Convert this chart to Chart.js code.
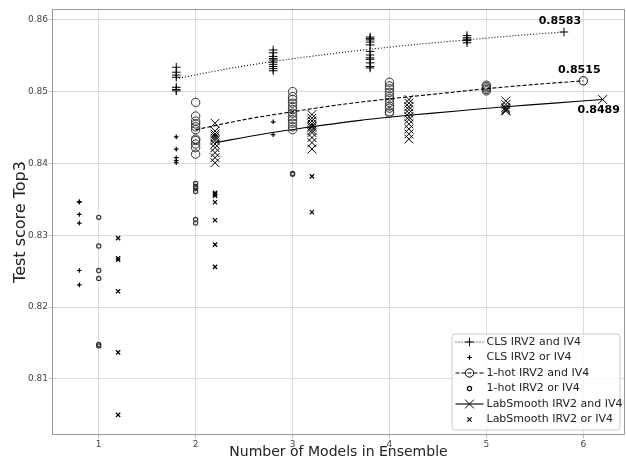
<!DOCTYPE html>
<html>
<head>
<meta charset="utf-8">
<script src="https://cdn.jsdelivr.net/npm/chart.js@4.4.1/dist/chart.umd.min.js"></script>
<style>
  html, body { margin: 0; padding: 0; background: #fff; }
  #wrap { width: 626px; height: 460px; }
</style>
</head>
<body>
<div id="wrap"><canvas id="grafico" width="626" height="460"></canvas></div>
<script>
// number of models for the "and" runs and the "or" runs
const andCounts = [2, 3, 4, 5];
const orCounts = [1, 2, 3];

const clsAndScores = [
    [0.8534, 0.8527, 0.8523, 0.8520, 0.8506, 0.8503, 0.8501],
    [0.8558, 0.8554, 0.8549, 0.8546, 0.8544, 0.8541, 0.8538, 0.8535, 0.8532, 0.8529],
    [0.8576, 0.8574, 0.8572, 0.8569, 0.8565, 0.8556, 0.8551, 0.8547, 0.8545, 0.8540, 0.8535, 0.8533],
    [0.8578, 0.8575, 0.8573, 0.8571, 0.8568]
];
const hotAndScores = [
    [0.8485, 0.8466, 0.8459, 0.8455, 0.8451, 0.8447, 0.8434, 0.8432, 0.8427, 0.8422, 0.8413],
    [0.8500, 0.8493, 0.8489, 0.8484, 0.8479, 0.8475, 0.8470, 0.8465, 0.8461, 0.8456, 0.8451, 0.8447],
    [0.8513, 0.8508, 0.8504, 0.8499, 0.8494, 0.8490, 0.8485, 0.8480, 0.8477, 0.8472, 0.8470],
    [0.8509, 0.8507, 0.8505, 0.8503, 0.8501]
];
const lsAndScores = [
    [0.8456, 0.8445, 0.8441, 0.8438, 0.8435, 0.8432, 0.8427, 0.8422, 0.8415, 0.8408, 0.8401],
    [0.8468, 0.8463, 0.8459, 0.8455, 0.8452, 0.8450, 0.8446, 0.8443, 0.8436, 0.8429, 0.8420],
    [0.8489, 0.8484, 0.8479, 0.8475, 0.8470, 0.8465, 0.8461, 0.8455, 0.8448, 0.8441, 0.8434],
    [0.8487, 0.8482, 0.8478, 0.8476, 0.8474, 0.8473]
];

const clsOrScores = [
    [0.8347, 0.8346, 0.8329, 0.8317, 0.8251, 0.8231],
    [0.8437, 0.8420, 0.8408, 0.8404, 0.8401],
    [0.8458, 0.8440]
];
const hotOrScores = [
    [0.8325, 0.8285, 0.8251, 0.8240, 0.8148, 0.8146],
    [0.8372, 0.8368, 0.8365, 0.8361, 0.8322, 0.8317],
    [0.8386, 0.8385]
];
const lsOrScores = [
    [0.8296, 0.8268, 0.8266, 0.8222, 0.8137, 0.8050],
    [0.8359, 0.8357, 0.8355, 0.8346, 0.8321, 0.8287, 0.8256],
    [0.8382, 0.8332]
];

// fitted curves, last point is the prediction for 6 models
const fitCounts = [2, 2.5, 3, 3.5, 4, 4.5, 5, 5.5, 6];
const clsFit = [0.8518, 0.8531, 0.8542, 0.8551, 0.8559, 0.8566, 0.8572, 0.8578, 0.8583];
const hotFit = [0.8447, 0.8461, 0.8472, 0.8482, 0.8490, 0.8497, 0.8504, 0.8510, 0.8515];
const lsFit = [0.8429, 0.8441, 0.8451, 0.8460, 0.8467, 0.8473, 0.8479, 0.8484, 0.8489];

const xTicks = [1, 2, 3, 4, 5, 6];
const yTicks = [0.81, 0.82, 0.83, 0.84, 0.85, 0.86];

const FONT = 'DejaVu Sans';

const grupos = [
    {nombre: 'CLS', marker: 'cross', dash: [1, 2], shift: -0.2, and: clsAndScores, or: clsOrScores, fit: clsFit, arriba: true},
    {nombre: '1-hot', marker: 'circle', dash: [4, 2], shift: 0, and: hotAndScores, or: hotOrScores, fit: hotFit, arriba: true},
    {nombre: 'LabSmooth', marker: 'crossRot', dash: [], shift: 0.2, and: lsAndScores, or: lsOrScores, fit: lsFit, arriba: false}
];

const radioGrande = {cross: 4.3, circle: 4.2, crossRot: 6.2};
const radioChico = {cross: 2.3, circle: 2.1, crossRot: 3};

function puntos(counts, scores, shift) {
    const out = [];
    counts.forEach((n, i) => scores[i].forEach(v => out.push({x: n + shift, y: v})));
    return out;
}

const datasets = [];
grupos.forEach(g => {
    const curva = fitCounts.map((n, i) => ({x: n + g.shift, y: g.fit[i]}));
    datasets.push({
        label: g.nombre + ' IRV2 and IV4',
        data: curva,
        showLine: true,
        tension: 0.3,
        borderColor: '#000',
        borderWidth: 1.1,
        borderDash: g.dash,
        pointStyle: g.marker,
        pointRadius: c => c.dataIndex === curva.length - 1 ? radioGrande[g.marker] : 0,
        pointBorderWidth: 1,
        pointBorderColor: '#000',
        pointBackgroundColor: 'rgba(0,0,0,0)'
    });
    datasets.push({
        label: g.nombre + ' IRV2 and IV4 runs',
        data: puntos(andCounts, g.and, g.shift),
        showLine: false,
        pointStyle: g.marker,
        pointRadius: radioGrande[g.marker],
        pointBorderWidth: 1,
        pointBorderColor: g.marker === 'circle' ? '#333' : '#000',
        pointBackgroundColor: 'rgba(0,0,0,0)'
    });
    datasets.push({
        label: g.nombre + ' IRV2 or IV4',
        data: puntos(orCounts, g.or, g.shift),
        showLine: false,
        pointStyle: g.marker,
        pointRadius: radioChico[g.marker],
        pointBorderWidth: 1.2,
        pointBorderColor: g.marker === 'circle' ? '#333' : '#000',
        pointBackgroundColor: 'rgba(0,0,0,0)'
    });
});

function dibujarMarcador(ctx, estilo, x, y, r) {
    ctx.beginPath();
    if (estilo === 'circle') {
        ctx.arc(x, y, r, 0, Math.PI * 2);
    } else if (estilo === 'cross') {
        ctx.moveTo(x - r, y); ctx.lineTo(x + r, y);
        ctx.moveTo(x, y - r); ctx.lineTo(x, y + r);
    } else {
        const d = r * Math.SQRT1_2;
        ctx.moveTo(x - d, y - d); ctx.lineTo(x + d, y + d);
        ctx.moveTo(x - d, y + d); ctx.lineTo(x + d, y - d);
    }
    ctx.stroke();
}

// frame around the plot
const marco = {
    id: 'marco',
    beforeDatasetsDraw(chart) {
        const {ctx, chartArea: a} = chart;
        ctx.save();
        ctx.strokeStyle = '#9a9a9a';
        ctx.lineWidth = 1;
        ctx.strokeRect(a.left + 0.5, a.top + 0.5, a.right - a.left - 1, a.bottom - a.top - 1);
        ctx.restore();
    }
};

// value labels next to the predicted points
const etiquetas = {
    id: 'etiquetas',
    afterDatasetsDraw(chart) {
        const {ctx, scales} = chart;
        ctx.save();
        ctx.font = 'bold 11px "' + FONT + '"';
        ctx.fillStyle = '#000';
        ctx.textAlign = 'center';
        ctx.textBaseline = 'middle';
        grupos.forEach(g => {
            const i = fitCounts.length - 1;
            const px = scales.x.getPixelForValue(fitCounts[i] + g.shift);
            const py = scales.y.getPixelForValue(g.fit[i]);
            ctx.fillText(g.fit[i].toFixed(4), px - 4, py + (g.arriba ? -11 : 11));
        });
        ctx.restore();
    }
};

// legend drawn inside the plot, lower right
const leyenda = {
    id: 'leyenda',
    afterDraw(chart) {
        const {ctx, chartArea: a} = chart;
        const x1 = a.right - 5.5, y1 = a.bottom - 5.5;
        const x0 = x1 - 168, y0 = y1 - 96;
        ctx.save();
        ctx.beginPath();
        ctx.roundRect(x0 + 0.5, y0 + 0.5, x1 - x0, y1 - y0, 3);
        ctx.fillStyle = 'rgba(255,255,255,0.8)';
        ctx.fill();
        ctx.strokeStyle = '#cccccc';
        ctx.lineWidth = 1;
        ctx.stroke();
        ctx.font = '11px "' + FONT + '"';
        ctx.textBaseline = 'middle';
        let fila = 0;
        grupos.forEach(g => {
            ['and', 'or'].forEach(tipo => {
                const y = y0 + 8.5 + fila * 15.5;
                ctx.strokeStyle = '#000';
                if (tipo === 'and') {
                    ctx.lineWidth = 1.1;
                    ctx.setLineDash(g.dash);
                    ctx.beginPath();
                    ctx.moveTo(x0 + 4, y); ctx.lineTo(x0 + 32, y);
                    ctx.stroke();
                    ctx.setLineDash([]);
                    ctx.lineWidth = 1;
                    dibujarMarcador(ctx, g.marker, x0 + 18, y, radioGrande[g.marker]);
                } else {
                    ctx.lineWidth = 1.2;
                    dibujarMarcador(ctx, g.marker, x0 + 18, y, radioChico[g.marker]);
                }
                ctx.fillStyle = '#222';
                ctx.fillText(g.nombre + ' IRV2 ' + tipo + ' IV4', x0 + 35, y);
                fila++;
            });
        });
        ctx.restore();
    }
};

const ctx = document.getElementById('grafico').getContext('2d');
new Chart(ctx, {
    type: 'scatter',
    data: { datasets: datasets },
    options: {
        responsive: false,
        animation: false,
        layout: { autoPadding: false, padding: { left: 0, right: 1, top: 9, bottom: 0 } },
        plugins: {
            legend: { display: false },
            tooltip: { enabled: false }
        },
        scales: {
            x: {
                type: 'linear',
                min: 0.518,
                max: 6.43,
                afterBuildTicks: s => { s.ticks = xTicks.map(v => ({value: v})); },
                afterFit: s => { s.height = 25; s.paddingLeft = 0; s.paddingRight = 0; },
                ticks: {
                    font: { family: FONT, size: 9 },
                    color: '#444',
                    padding: 1,
                    maxRotation: 0,
                    autoSkip: false,
                    callback: v => String(v)
                },
                grid: { color: '#dcdcdc', tickLength: 3, tickColor: '#bbbbbb' },
                border: { display: false },
                title: {
                    display: true,
                    text: 'Number of Models in Ensemble',
                    font: { family: FONT, size: 14 },
                    color: '#222',
                    padding: { top: 0, bottom: -1 }
                }
            },
            y: {
                type: 'linear',
                min: 0.8022,
                max: 0.8615,
                afterBuildTicks: s => { s.ticks = yTicks.map(v => ({value: v})); },
                afterFit: s => { s.width = 52; s.paddingTop = 0; s.paddingBottom = 0; },
                ticks: {
                    font: { family: FONT, size: 9 },
                    color: '#444',
                    padding: 1,
                    autoSkip: false,
                    callback: v => v.toFixed(2)
                },
                grid: { color: '#dcdcdc', tickLength: 3, tickColor: '#bbbbbb' },
                border: { display: false },
                title: {
                    display: true,
                    text: 'Test score Top3',
                    font: { family: FONT, size: 16 },
                    color: '#222',
                    padding: { top: 11, bottom: 0 }
                }
            }
        }
    },
    plugins: [marco, etiquetas, leyenda]
});
</script>
</body>
</html>
